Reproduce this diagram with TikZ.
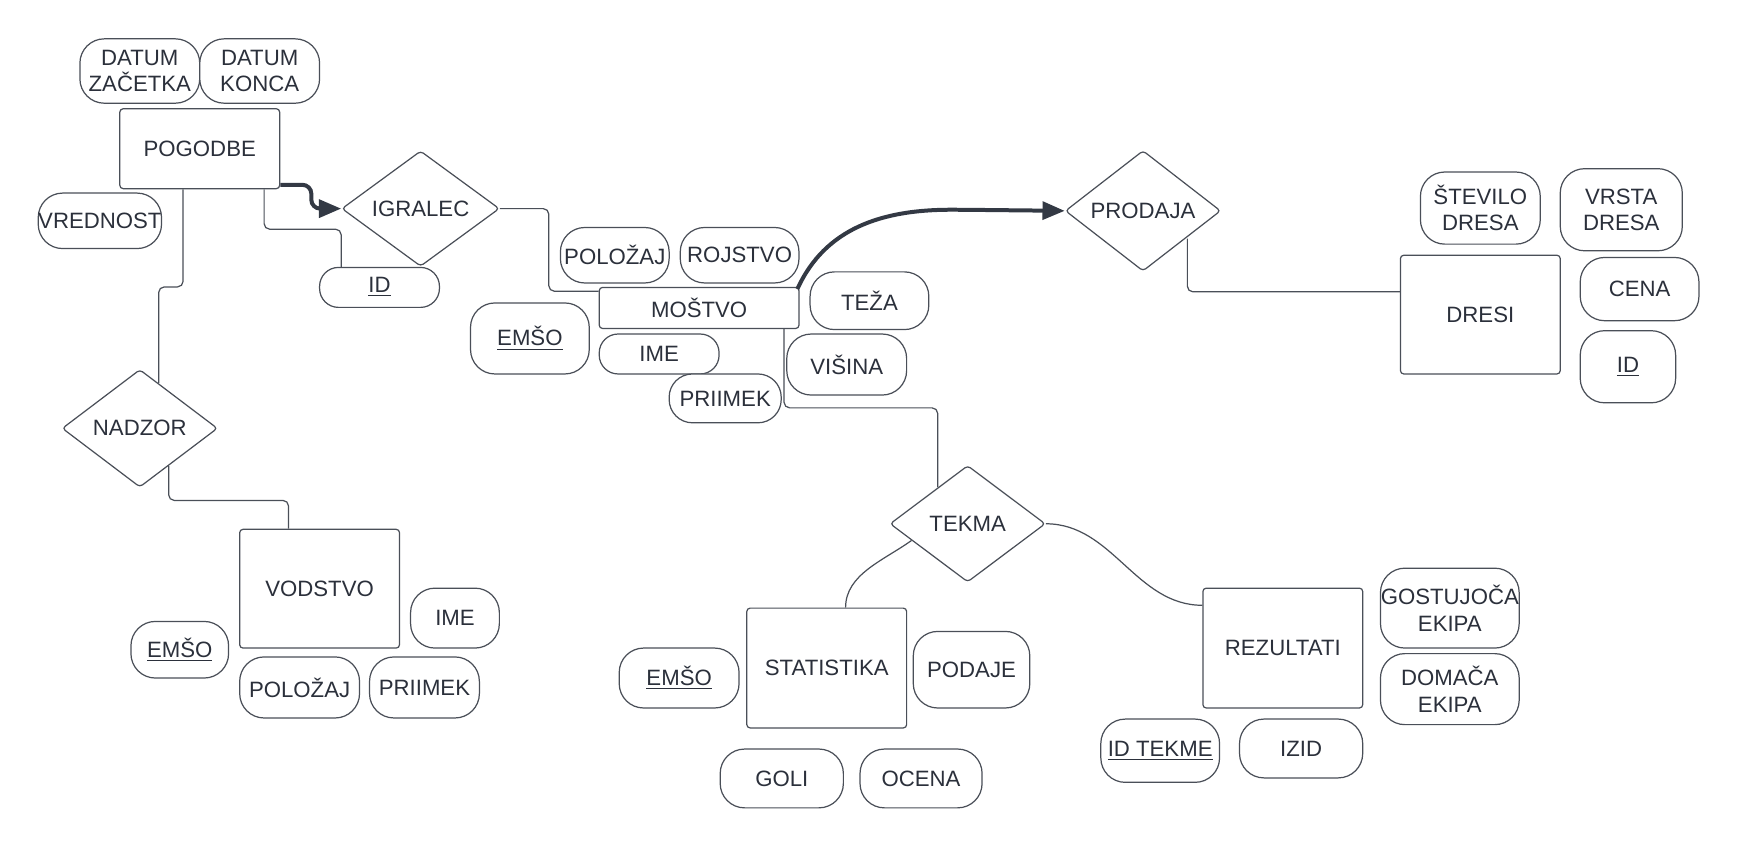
\documentclass[tikz,border=0pt]{standalone}
\usepackage{fontspec}
\setmainfont{Liberation Sans}
\usetikzlibrary{shapes.geometric,arrows.meta,calc}
\definecolor{lc}{HTML}{4A4F58}
\definecolor{tc}{HTML}{2B303B}
\definecolor{ac}{HTML}{333944}
\newcommand\efont{\fontsize{10}{12}\selectfont}
\begin{document}
\begin{tikzpicture}[x=0.5pt,y=-0.5pt,
  ent/.style={draw=lc, fill=white, rounded corners=1.5pt, inner sep=0pt, line width=0.55pt, text=tc, font=\efont},
  attr/.style={draw=lc, fill=white, rounded corners=#1, inner sep=0pt, line width=0.55pt, text=tc, align=center, font=\efont},
  attr/.default=11pt,
  rel/.style={diamond, draw=lc, fill=white, rounded corners=1.5pt, inner sep=0pt, line width=0.55pt, text=tc, font=\efont},
  conn/.style={draw=lc, line width=0.55pt, rounded corners=2.5pt},
  arr/.style={draw=ac, line width=1.8pt, rounded corners=4pt, -{Triangle[length=10pt,width=8pt]}}
]
\useasboundingbox (0,0) rectangle (1568,765);
% POGODBE cluster
\node[attr, minimum width=54pt, minimum height=29pt] (dz) at (126,64) {DATUM\\ZAČETKA};
\node[attr, minimum width=54pt, minimum height=29pt] (dk) at (234,64) {DATUM\\KONCA};
\node[ent, minimum width=72pt, minimum height=36pt] (pog) at (180,134) {POGODBE};
\node[attr, minimum width=54pt, minimum height=25pt] (vred) at (90,199) {VREDNOST};
\node[rel, minimum width=71pt, minimum height=52pt] (igr) at (379,188) {IGRALEC};
\node[attr=8.5pt, minimum width=54pt, minimum height=18pt] (idI) at (342,259) {\underline{ID}};
% NADZOR / VODSTVO
\node[rel, minimum width=70pt, minimum height=53pt] (nad) at (126,386) {NADZOR};
\node[ent, minimum width=72pt, minimum height=53.5pt] (vod) at (288,530.5) {VODSTVO};
\node[attr, minimum width=40pt, minimum height=27pt] (imeV) at (410,557) {IME};
\node[attr, minimum width=44pt, minimum height=25.5pt] (emsV) at (162,585.5) {\underline{EMŠO}};
\node[attr, minimum width=54pt, minimum height=27.5pt] (polV) at (270,619.5) {POLOŽAJ};
\node[attr, minimum width=49.5pt, minimum height=27.5pt] (priV) at (382.5,619.5) {PRIIMEK};
% MOSTVO cluster
\node[attr, minimum width=49pt, minimum height=25pt] (polM) at (554,230) {POLOŽAJ};
\node[attr, minimum width=53.5pt, minimum height=25pt] (roj) at (666.5,230) {ROJSTVO};
\node[ent, minimum width=90pt, minimum height=18.5pt] (most) at (630,277.5) {MOŠTVO};
\node[attr, minimum width=53.5pt, minimum height=32pt] (emsM) at (477.5,305) {\underline{EMŠO}};
\node[attr=8.5pt, minimum width=54pt, minimum height=18pt] (imeM) at (594,319) {IME};
\node[attr=10.5pt, minimum width=50.5pt, minimum height=22pt] (priM) at (653.5,359) {PRIIMEK};
\node[attr, minimum width=53.5pt, minimum height=26pt] (teza) at (783.5,271) {TEŽA};
\node[attr, minimum width=54pt, minimum height=27.5pt] (vis) at (763,328.5) {VIŠINA};
% PRODAJA / DRESI
\node[rel, minimum width=70pt, minimum height=52pt] (prod) at (1030,190) {PRODAJA};
\node[ent, minimum width=72pt, minimum height=53.5pt] (dres) at (1334,283.5) {DRESI};
\node[attr, minimum width=54pt, minimum height=32.5pt] (stev) at (1334,187.5) {ŠTEVILO\\DRESA};
\node[attr, minimum width=55pt, minimum height=37pt] (vrsta) at (1461,189) {VRSTA\\DRESA};
\node[attr, minimum width=53.5pt, minimum height=28.5pt] (cena) at (1477.5,260.5) {CENA};
\node[attr, minimum width=43pt, minimum height=32.5pt] (idD) at (1467,330.5) {\underline{ID}};
% TEKMA cluster
\node[rel, minimum width=70pt, minimum height=52.5pt] (tek) at (872,472) {TEKMA};
\node[ent, minimum width=72pt, minimum height=54pt] (stat) at (745,602) {STATISTIKA};
\node[attr, minimum width=54pt, minimum height=27pt] (emsS) at (612,611) {\underline{EMŠO}};
\node[attr, minimum width=52.5pt, minimum height=34.5pt] (pod) at (875.5,603.5) {PODAJE};
\node[attr, minimum width=55.5pt, minimum height=26.5pt] (goli) at (704.5,701.5) {GOLI};
\node[attr, minimum width=55pt, minimum height=26.5pt] (ocena) at (830,701.5) {OCENA};
\node[ent, minimum width=72pt, minimum height=54pt] (rez) at (1156,584) {REZULTATI};
\node[attr, minimum width=62.5pt, minimum height=36pt] (gost) at (1306.5,548) {GOSTUJOČA\\EKIPA};
\node[attr, minimum width=62.5pt, minimum height=32pt] (doma) at (1306.5,621) {DOMAČA\\EKIPA};
\node[attr, minimum width=53.5pt, minimum height=28.5pt] (idT) at (1045.5,676.5) {\underline{ID TEKME}};
\node[attr, minimum width=55.5pt, minimum height=26.5pt] (izid) at (1172.5,674.5) {IZID};
% connectors
\draw[conn] ([xshift=29pt]pog.south) -- ++(0,36) -| (igr.west |- idI.north);
\draw[conn] ([xshift=-7.5pt]pog.south) -- ++(0,88) -| ([xshift=8.5pt,yshift=-6.4pt]nad.north);
\draw[conn] ([xshift=13pt,yshift=9.8pt]nad.south) -- ++(0,31) -| ([xshift=-14pt]vod.north);
\draw[conn] (igr.east) -- ++(44,0) |- ([yshift=-2pt]most.north west);
\draw[conn] ([xshift=-7pt]most.south east) -- ++(0,71) -| ([xshift=-13.5pt,yshift=-10pt]tek.north);
\draw[conn] ([xshift=20pt,yshift=14.9pt]prod.south) |- ([yshift=10.25pt]dres.west);
\draw[conn] ([xshift=10pt,yshift=-7.5pt]tek.west) .. controls +(-25,18) and +(0,-30) .. ([xshift=8.5pt]stat.north);
\draw[conn] (tek.east) .. controls +(60,0) and +(-60,0) .. ([yshift=-8pt]rez.north west);
\draw[arr] ([yshift=2pt]pog.south east) -- ++(28,0) |- (igr.west);
\coordinate (bend) at (865,189);
\draw[arr] ([xshift=-1pt,yshift=-1pt]most.north east) .. controls +(25,-55) and +(-70,0) .. (bend) -- (prod.west);
\end{tikzpicture}
\end{document}
